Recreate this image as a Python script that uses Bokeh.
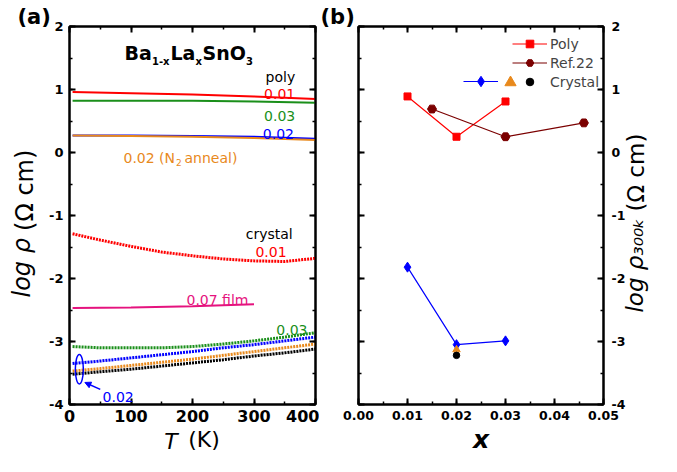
import math
from bokeh.plotting import figure
from bokeh.layouts import row
from bokeh.models import (Range1d, LinearAxis, SingleIntervalTicker, FixedTicker,
                          PrintfTickFormatter, CustomJSTickFormatter, Label, Legend,
                          LegendItem, Arrow, NormalHead)
from bokeh.core.properties import value
from bokeh.embed import file_html
from bokeh.resources import INLINE

# ---------------- data: panel (a) ----------------
T_poly = [5, 100, 200, 300, 400]
poly_001 = [0.96, 0.94, 0.92, 0.89, 0.85]
poly_003 = [0.82, 0.82, 0.82, 0.81, 0.79]
poly_002 = [0.27, 0.27, 0.26, 0.25, 0.22]
poly_002_n2 = [0.27, 0.26, 0.25, 0.23, 0.20]

T_cryst = [5, 50, 100, 150, 200, 250, 300, 350, 400]
cryst_001 = [-1.29, -1.39, -1.49, -1.58, -1.64, -1.69, -1.72, -1.73, -1.68]
cryst_003 = [-3.08, -3.10, -3.10, -3.10, -3.08, -3.04, -2.99, -2.93, -2.86]
cryst_002 = [-3.35, -3.31, -3.26, -3.21, -3.16, -3.10, -3.05, -2.99, -2.93]
cryst_002_n2 = [-3.47, -3.43, -3.38, -3.33, -3.28, -3.22, -3.16, -3.10, -3.04]
cryst_002_blk = [-3.52, -3.48, -3.44, -3.39, -3.34, -3.29, -3.23, -3.18, -3.12]

T_film = [5, 100, 200, 300]
film_007 = [-2.47, -2.46, -2.44, -2.41]

# ---------------- data: panel (b) ----------------
x_poly = [0.01, 0.02, 0.03]
y_poly = [0.89, 0.25, 0.81]
x_ref = [0.015, 0.03, 0.046]
y_ref = [0.69, 0.25, 0.47]
x_cryst = [0.01, 0.02, 0.03]
y_cryst = [-1.82, -3.05, -2.99]
x_n2 = [0.02]
y_n2 = [-3.13]
x_blk = [0.02]
y_blk = [-3.22]

RED = "#ff0000"
GREEN = "#1a8f1a"
BLUE = "#0000ff"
ORANGE = "#e8891c"
PINK = "#e5137e"
MAROON = "#7b0000"
FONT = "DejaVu Sans"


def style_axis(ax, labels=True, size="13px"):
    ax.axis_line_width = 2
    ax.major_tick_line_width = 2
    ax.minor_tick_line_width = 1.5
    ax.major_tick_in = 6
    ax.major_tick_out = 0
    ax.minor_tick_in = 3
    ax.minor_tick_out = 0
    ax.major_label_text_font = FONT
    ax.major_label_text_font_style = "bold"
    ax.major_label_text_font_size = size
    ax.major_label_text_color = "black"
    if not labels:
        ax.formatter = CustomJSTickFormatter(code="return ''")
        ax.major_label_standoff = 0
        ax.major_label_text_font_size = "1px"


def title_axis(p, side, ticks, texts, size, style, orient, standoff, font=FONT):
    """An axis with no line/ticks whose only labels are pieces of the axis title."""
    ax = LinearAxis(ticker=FixedTicker(ticks=ticks),
                    major_label_overrides={t: s for t, s in zip(ticks, texts)})
    ax.axis_line_color = None
    ax.major_tick_line_color = None
    ax.minor_tick_line_color = None
    ax.major_tick_in = 0
    ax.major_tick_out = 0
    ax.minor_tick_in = 0
    ax.minor_tick_out = 0
    ax.major_label_text_font = font
    ax.major_label_text_font_size = f"{size}px"
    ax.major_label_text_font_style = style
    ax.major_label_text_color = "black"
    ax.major_label_orientation = orient
    try:
        ax.major_label_standoff = standoff
    except Exception:
        ax.major_label_standoff = 0
    p.add_layout(ax, side)
    return ax


def lab(p, x, y, text, size, color="black", style="normal", align="left",
        baseline="alphabetic", angle=0, font=FONT):
    p.add_layout(Label(x=x, y=y, text=text, text_font=font, text_font_size=f"{size}px",
                       text_color=color, text_font_style=style, text_align=align,
                       text_baseline=baseline, angle=angle))


def panel_title(p, text, offset):
    t = p.title
    t.text = text
    t.align = "left"
    t.offset = offset
    t.text_font = FONT
    t.text_font_size = "21px"
    t.text_font_style = "bold"
    t.text_color = "black"
    try:
        t.standoff = -4
    except Exception:
        t.standoff = 0


FT, FH = 26, 378   # frame top border and frame height

# ================= panel (a) =================
pa = figure(width=319, frame_height=FH, min_border_left=69, min_border_right=4,
            min_border_top=FT, min_border_bottom=456 - FT - FH,
            x_range=Range1d(0, 400), y_range=Range1d(-4, 2),
            output_backend="svg", toolbar_location=None)
pa.grid.visible = False
pa.outline_line_color = "black"
pa.outline_line_width = 2
pa.background_fill_color = "white"
pa.border_fill_color = "white"

xt_a = SingleIntervalTicker(interval=100, num_minor_ticks=2)
yt = SingleIntervalTicker(interval=1, num_minor_ticks=2)
pa.xaxis.ticker = xt_a
pa.yaxis.ticker = yt
pa.yaxis.formatter = PrintfTickFormatter(format="%d")
style_axis(pa.xaxis[0], True, "16px")
style_axis(pa.yaxis[0], True, "13px")
pa.xaxis.major_label_standoff = 5
pa.yaxis.major_label_standoff = 6
ax_top = LinearAxis(ticker=xt_a)
style_axis(ax_top, False)
pa.add_layout(ax_top, "above")
ax_right = LinearAxis(ticker=yt)
style_axis(ax_right, False)
pa.add_layout(ax_right, "right")
panel_title(pa, "(a)", -52)

# axis titles (a): "T (K)" and "log ρ (Ω cm)" with italic symbols
title_axis(pa, "below", [218.7], ["(K)"], 22, "normal", "horizontal", 2)
title_axis(pa, "below", [165.0], ["T"], 22, "italic", "horizontal", -26)
title_axis(pa, "left", [-0.60], ["(Ω cm)"], 24, "normal", "parallel", 7)
title_axis(pa, "left", [-1.83], ["log ρ"], 24, "italic", "parallel", -28)

# poly (solid)
pa.line(T_poly, poly_001, line_color=RED, line_width=2)
pa.line(T_poly, poly_003, line_color=GREEN, line_width=2)
pa.line(T_poly, poly_002, line_color=BLUE, line_width=2)
pa.line(T_poly, poly_002_n2, line_color=ORANGE, line_width=2)
# film
pa.line(T_film, film_007, line_color=PINK, line_width=2)
# crystals (dotted)
for ys, c in [(cryst_001, RED), (cryst_003, GREEN), (cryst_002, BLUE),
              (cryst_002_n2, ORANGE), (cryst_002_blk, "black")]:
    pa.line(T_cryst, ys, line_color=c, line_width=3, line_dash="2 1")

# ellipse + arrow marking the 0.02 crystal group
ell_x, ell_y, ell_w, ell_h = [16], [-3.44], 13, 0.47
pa.ellipse(x=ell_x, y=ell_y, width=ell_w, height=ell_h, fill_color=None,
           line_color=BLUE, line_width=1.5)
pa.add_layout(Arrow(end=NormalHead(size=6, fill_color=BLUE, line_color=BLUE),
                    x_start=50, y_start=-3.76, x_end=25, y_end=-3.65,
                    line_color=BLUE, line_width=1.5))

# texts panel (a)
lab(pa, 89.4, 1.574, "Ba", 19, style="bold")
lab(pa, 134.1, 1.45, "1-x", 10, style="bold")
lab(pa, 164.2, 1.574, "La", 19, style="bold")
lab(pa, 204.9, 1.45, "x", 10, style="bold")
lab(pa, 216.3, 1.574, "SnO", 19, style="bold")
lab(pa, 287.0, 1.45, "3", 10, style="bold")

lab(pa, 367, 1.195, "poly", 14, align="right")
lab(pa, 367, 0.93, "0.01", 14, color=RED, align="right")
lab(pa, 367, 0.574, "0.03", 14, color=GREEN, align="right")
lab(pa, 365, 0.30, "0.02", 14, color=BLUE, align="right")
lab(pa, 87.8, -0.084, "0.02 (N", 14, color=ORANGE)
lab(pa, 173.2, -0.163, "2", 9, color=ORANGE)
lab(pa, 187.0, -0.084, "anneal)", 14, color=ORANGE)
lab(pa, 363, -1.30, "crystal", 14, align="right")
lab(pa, 353, -1.584, "0.01", 14, color=RED, align="right")
lab(pa, 291, -2.337, "0.07 film", 14, color=PINK, align="right")
lab(pa, 387, -2.82, "0.03", 14, color=GREEN, align="right")
lab(pa, 53.7, -3.88, "0.02", 14, color=BLUE)

# ================= panel (b) =================
pb = figure(width=350, frame_height=FH, min_border_left=39, min_border_right=66,
            min_border_top=FT, min_border_bottom=456 - FT - FH,
            x_range=Range1d(0, 0.05), y_range=Range1d(-4, 2), y_axis_location="right",
            output_backend="svg", toolbar_location=None)
pb.grid.visible = False
pb.outline_line_color = "black"
pb.outline_line_width = 2
pb.background_fill_color = "white"
pb.border_fill_color = "white"

xt_b = SingleIntervalTicker(interval=0.01, num_minor_ticks=2)
pb.xaxis.ticker = xt_b
pb.xaxis.formatter = PrintfTickFormatter(format="%.2f")
pb.yaxis.ticker = yt
pb.yaxis.formatter = PrintfTickFormatter(format="%d")
style_axis(pb.xaxis[0], True, "12.5px")
style_axis(pb.yaxis[0], True, "12.5px")
pb.xaxis.major_label_standoff = 6
pb.yaxis.major_label_standoff = 8
pb.xaxis.axis_label = "x"
pb.xaxis.axis_label_text_font = FONT
pb.xaxis.axis_label_text_font_size = "25px"
pb.xaxis.axis_label_text_font_style = "bold italic"
pb.xaxis.axis_label_text_color = "black"
pb.xaxis.axis_label_standoff = 2
bx_top = LinearAxis(ticker=xt_b)
style_axis(bx_top, False)
pb.add_layout(bx_top, "above")
by_left = LinearAxis(ticker=yt)
style_axis(by_left, False)
pb.add_layout(by_left, "left")
panel_title(pb, "(b)", -38)

# right axis title (b): "log ρ300K (Ω cm)", read bottom to top
title_axis(pb, "right", [-0.937], ["(Ω cm)"], 23, "normal", math.pi / 2, 8)
title_axis(pb, "right", [-2.54], ["log ρ₃₀₀ₖ"], 23, "italic", math.pi / 2, -30)

r_poly_l = pb.line(x_poly, y_poly, line_color=RED, line_width=1.2)
r_poly_s = pb.scatter(x_poly, y_poly, marker="square", size=7, fill_color=RED, line_color=RED)
r_ref_l = pb.line(x_ref, y_ref, line_color=MAROON, line_width=1.2)
r_ref_s = pb.scatter(x_ref, y_ref, marker="hex", size=9, fill_color=MAROON, line_color=MAROON)
r_cr_l = pb.line(x_cryst, y_cryst, line_color=BLUE, line_width=1.2)
r_cr_s = pb.scatter(x_cryst, y_cryst, marker="diamond", size=10,
                    fill_color=BLUE, line_color=BLUE)
r_n2 = pb.scatter(x_n2, y_n2, marker="triangle", size=7.5, fill_color=ORANGE, line_color=ORANGE)
r_blk = pb.scatter(x_blk, y_blk, marker="circle", size=6.5, fill_color="black", line_color="black")

common = dict(orientation="vertical", label_height=19, spacing=0, padding=0,
              margin=0, border_line_color=None, background_fill_alpha=0,
              label_text_font=FONT, label_text_font_size="14px")
leg1 = Legend(items=[LegendItem(label=value("Poly"), renderers=[r_poly_l, r_poly_s]),
                     LegendItem(label=value("Ref.22"), renderers=[r_ref_l, r_ref_s]),
                     LegendItem(label=value("Crystal"), renderers=[r_blk])],
              location=(154, 313), glyph_width=35, glyph_height=19, label_standoff=3, **common)
leg2 = Legend(items=[LegendItem(label=value(""), renderers=[r_cr_l, r_cr_s])],
              location=(105, 310), glyph_width=35, glyph_height=26, label_standoff=0, **common)
leg3 = Legend(items=[LegendItem(label=value(""), renderers=[r_n2])],
              location=(138, 308), glyph_width=28, glyph_height=28, label_standoff=0, **common)
pb.add_layout(leg1)
pb.add_layout(leg2)
pb.add_layout(leg3)

layout = row(pa, pb)
open("out.html", "w").write(file_html(layout, INLINE))
